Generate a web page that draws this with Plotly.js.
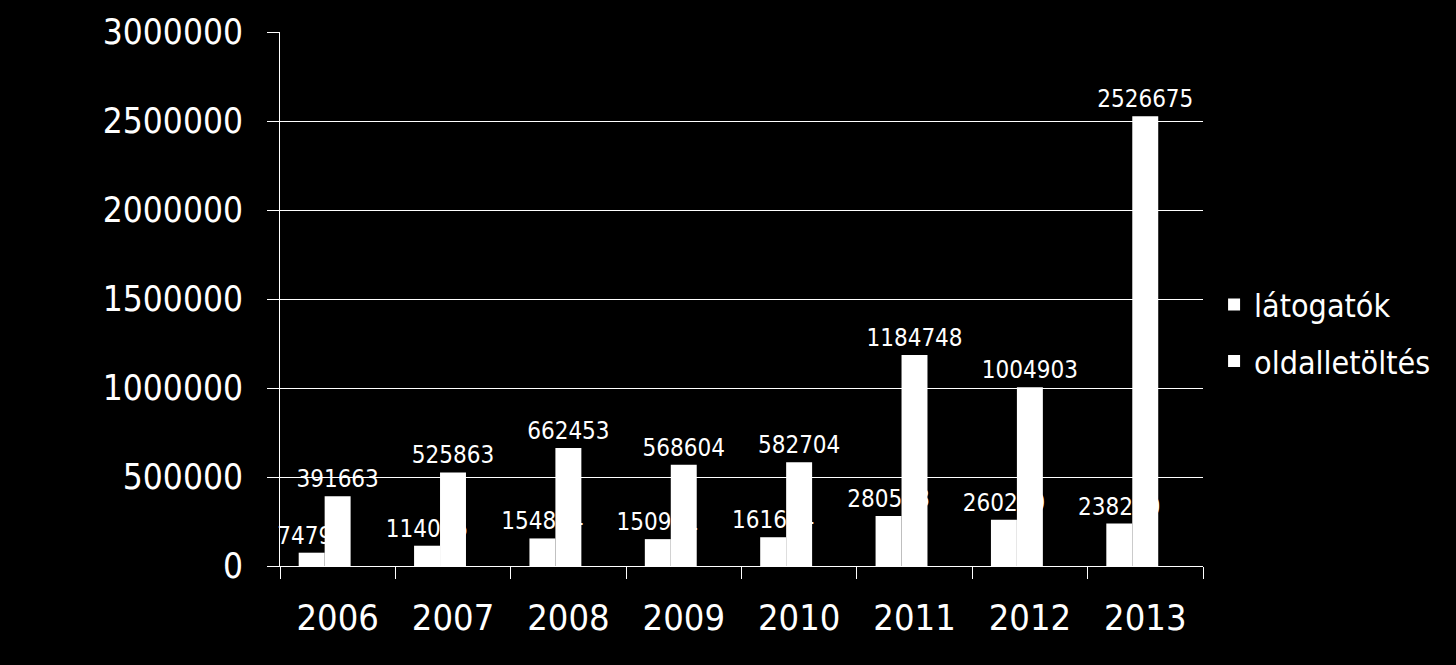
<!DOCTYPE html>
<html>
<head>
<meta charset="utf-8">
<script src="https://cdn.plot.ly/plotly-3.0.1.min.js"></script>
<style>
  html, body { margin: 0; padding: 0; background: #000; }
  #chart { width: 1456px; height: 665px; }
</style>
</head>
<body>
<div id="chart"></div>
<script>
// évek és adatsorok
const years = ['2006', '2007', '2008', '2009', '2010', '2011', '2012', '2013'];
const latogatok = [74795, 114015, 154814, 150951, 161614, 280538, 260280, 238280];
const oldalletoltes = [391663, 525863, 662453, 568604, 582704, 1184748, 1004903, 2526675];

const font = 'DejaVu Sans Condensed, DejaVu Sans, sans-serif';

const data = [
    {
        type: 'bar',
        name: 'látogatók',
        legendgroup: 'a',
        x: years,
        y: latogatok,
        width: 0.225,
        offset: -0.338,
        marker: { color: '#ffffff', line: { width: 0 } },
        text: latogatok.map(String),
        textposition: 'outside',
        constraintext: 'none',
        textfont: { family: font, size: 24, color: '#ffffff' },
        cliponaxis: false
    },
    {
        type: 'bar',
        name: 'oldalletöltés',
        legendgroup: 'b',
        x: years,
        y: oldalletoltes,
        width: 0.225,
        offset: -0.113,
        marker: { color: '#ffffff', line: { width: 0 } },
        text: oldalletoltes.map(String),
        textposition: 'outside',
        constraintext: 'none',
        textfont: { family: font, size: 24, color: '#ffffff' },
        cliponaxis: false
    }
];

const layout = {
    width: 1456,
    height: 665,
    paper_bgcolor: '#000000',
    plot_bgcolor: '#000000',
    font: { family: font, color: '#ffffff' },
    margin: { l: 280, r: 253, t: 32, b: 99 },
    barmode: 'group',
    showlegend: true,
    legend: {
        x: 1.012, xanchor: 'left',
        y: 0.436, yanchor: 'middle',
        font: { family: font, size: 32, color: '#ffffff' },
        bgcolor: 'rgba(0,0,0,0)',
        itemsizing: 'constant',
        itemwidth: 30,
        tracegroupgap: 12
    },
    xaxis: {
        type: 'category',
        showline: true,
        linecolor: '#ffffff',
        linewidth: 1,
        ticks: 'outside',
        tickson: 'boundaries',
        ticklen: 12,
        tickcolor: '#ffffff',
        ticklabelstandoff: 20,
        tickfont: { family: font, size: 36, color: '#ffffff' },
        showgrid: false
    },
    yaxis: {
        range: [0, 3000000],
        dtick: 500000,
        tickformat: 'd',
        showline: true,
        linecolor: '#ffffff',
        linewidth: 1,
        ticks: 'outside',
        ticklen: 12,
        tickcolor: '#ffffff',
        ticklabelstandoff: 17,
        tickfont: { family: font, size: 35, color: '#ffffff' },
        showgrid: true,
        gridcolor: '#ffffff',
        gridwidth: 1,
        zeroline: true,
        zerolinecolor: '#ffffff'
    }
};

Plotly.newPlot('chart', data, layout, { displayModeBar: false, staticPlot: true });
</script>
</body>
</html>
